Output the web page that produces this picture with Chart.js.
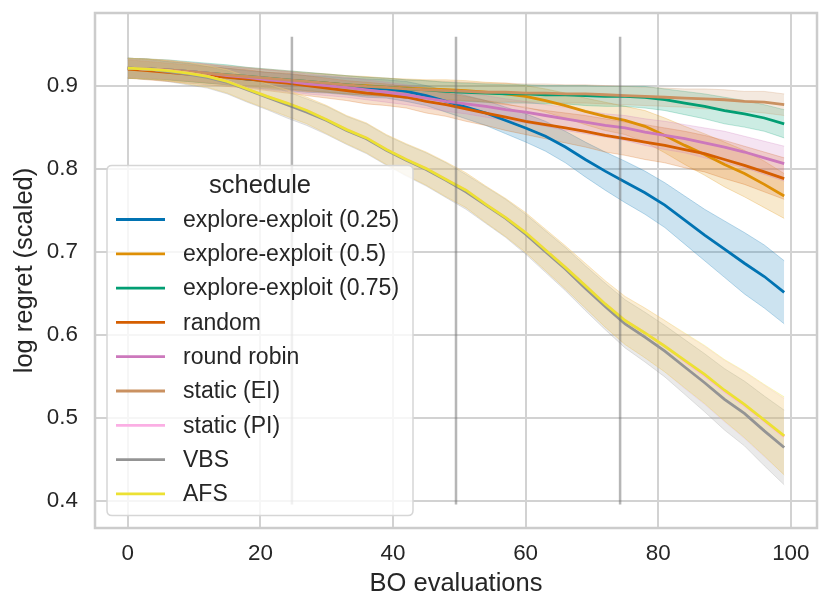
<!DOCTYPE html>
<html>
<head>
<meta charset="utf-8">
<script src="https://cdn.jsdelivr.net/npm/chart.js@4.4.1/dist/chart.umd.min.js"></script>
<style>
html,body{margin:0;padding:0;background:#ffffff;}
#wrap{width:830px;height:613px;position:relative;}
</style>
</head>
<body>
<div id="wrap"><canvas id="c" width="830" height="613"></canvas></div>
<script>
// ---------------- data ----------------
const evaluations = [0,3,6,9,12,15,18,21,24,27,30,33,36,39,42,45,48,51,54,57,60,63,66,69,72,75,78,81,84,87,90,93,96,99];

const scheduleNames = ['explore-exploit (0.25)','explore-exploit (0.5)','explore-exploit (0.75)','random','round robin','static (EI)','static (PI)','VBS','AFS'];

const explore025 = [0.921,0.920,0.918,0.916,0.913,0.911,0.908,0.906,0.904,0.902,0.901,0.899,0.897,0.896,0.893,0.888,0.881,0.874,0.867,0.858,0.849,0.839,0.826,0.811,0.797,0.784,0.771,0.756,0.738,0.720,0.703,0.686,0.670,0.651];
const explore05  = [0.921,0.920,0.918,0.916,0.914,0.912,0.910,0.908,0.906,0.904,0.903,0.901,0.900,0.898,0.897,0.896,0.895,0.894,0.892,0.890,0.887,0.882,0.876,0.869,0.863,0.858,0.851,0.840,0.828,0.817,0.805,0.794,0.781,0.767];
const explore075 = [0.921,0.920,0.919,0.917,0.915,0.913,0.911,0.909,0.907,0.905,0.903,0.901,0.899,0.898,0.896,0.895,0.893,0.892,0.891,0.890,0.890,0.889,0.889,0.888,0.887,0.887,0.886,0.883,0.879,0.875,0.870,0.866,0.861,0.854];
const randomSched = [0.920,0.918,0.916,0.914,0.912,0.910,0.908,0.905,0.903,0.900,0.897,0.894,0.891,0.889,0.886,0.881,0.877,0.872,0.867,0.862,0.857,0.853,0.849,0.845,0.840,0.836,0.832,0.828,0.823,0.818,0.811,0.804,0.796,0.788];
const roundRobin = [0.921,0.920,0.919,0.917,0.915,0.912,0.910,0.907,0.905,0.902,0.900,0.898,0.895,0.892,0.889,0.885,0.881,0.878,0.875,0.871,0.868,0.864,0.860,0.856,0.852,0.849,0.844,0.840,0.836,0.831,0.826,0.820,0.813,0.806];
const staticEI   = [0.921,0.920,0.919,0.917,0.915,0.913,0.911,0.909,0.907,0.905,0.903,0.901,0.899,0.898,0.896,0.895,0.894,0.893,0.892,0.892,0.891,0.891,0.890,0.890,0.889,0.888,0.887,0.886,0.885,0.884,0.883,0.881,0.880,0.877];
const staticPI   = [0.921,0.920,0.918,0.915,0.911,0.905,0.896,0.887,0.879,0.870,0.859,0.847,0.837,0.823,0.811,0.800,0.787,0.774,0.757,0.741,0.723,0.702,0.681,0.659,0.637,0.617,0.602,0.586,0.568,0.551,0.532,0.515,0.496,0.477];
const vbs        = [0.921,0.920,0.917,0.914,0.910,0.904,0.895,0.886,0.877,0.868,0.858,0.846,0.836,0.822,0.810,0.799,0.786,0.772,0.756,0.740,0.721,0.700,0.679,0.656,0.634,0.613,0.597,0.580,0.561,0.542,0.522,0.505,0.484,0.464];
const afs        = [0.921,0.920,0.918,0.915,0.911,0.905,0.896,0.887,0.879,0.870,0.859,0.847,0.837,0.823,0.811,0.800,0.787,0.774,0.757,0.741,0.723,0.702,0.681,0.659,0.637,0.617,0.602,0.586,0.569,0.552,0.533,0.516,0.497,0.478];

// 95% confidence half-widths
const explore025Ci = [0.012,0.012,0.011,0.011,0.010,0.010,0.010,0.010,0.010,0.010,0.010,0.010,0.011,0.011,0.012,0.012,0.013,0.014,0.015,0.016,0.017,0.018,0.019,0.021,0.023,0.025,0.026,0.027,0.029,0.031,0.034,0.037,0.038,0.038];
const explore05Ci  = [0.012,0.012,0.012,0.011,0.011,0.011,0.011,0.011,0.011,0.011,0.011,0.011,0.011,0.011,0.011,0.011,0.012,0.012,0.012,0.013,0.013,0.014,0.015,0.016,0.017,0.017,0.019,0.021,0.023,0.025,0.027,0.028,0.028,0.027];
const explore075Ci = [0.012,0.012,0.012,0.012,0.012,0.012,0.011,0.011,0.011,0.011,0.011,0.011,0.011,0.011,0.011,0.011,0.011,0.011,0.011,0.011,0.011,0.011,0.011,0.012,0.012,0.012,0.013,0.013,0.014,0.015,0.016,0.016,0.016,0.017];
const randomCi     = [0.011,0.011,0.011,0.011,0.011,0.011,0.011,0.011,0.012,0.012,0.012,0.012,0.013,0.013,0.013,0.014,0.014,0.015,0.015,0.016,0.016,0.017,0.018,0.019,0.020,0.020,0.021,0.021,0.022,0.022,0.023,0.023,0.024,0.025];
const roundRobinCi = [0.011,0.011,0.011,0.011,0.011,0.011,0.011,0.012,0.012,0.012,0.012,0.012,0.012,0.012,0.012,0.012,0.012,0.012,0.013,0.013,0.013,0.013,0.014,0.014,0.014,0.015,0.016,0.017,0.017,0.018,0.019,0.019,0.020,0.021];
const staticEICi   = [0.012,0.012,0.012,0.011,0.011,0.011,0.011,0.011,0.011,0.011,0.011,0.011,0.011,0.011,0.011,0.011,0.011,0.011,0.011,0.011,0.011,0.011,0.011,0.011,0.011,0.011,0.011,0.011,0.011,0.012,0.012,0.012,0.013,0.013];
const staticPICi   = [0.012,0.012,0.012,0.013,0.013,0.014,0.015,0.015,0.016,0.016,0.017,0.017,0.018,0.018,0.019,0.020,0.021,0.021,0.022,0.023,0.024,0.025,0.026,0.027,0.028,0.029,0.030,0.031,0.033,0.035,0.037,0.040,0.043,0.046];
const vbsCi        = [0.012,0.012,0.012,0.013,0.013,0.014,0.015,0.015,0.016,0.016,0.017,0.017,0.018,0.018,0.019,0.020,0.021,0.021,0.022,0.023,0.024,0.025,0.026,0.027,0.028,0.029,0.030,0.031,0.033,0.035,0.037,0.039,0.042,0.045];
const afsCi        = [0.012,0.012,0.012,0.013,0.013,0.014,0.015,0.015,0.016,0.016,0.017,0.017,0.018,0.018,0.019,0.020,0.021,0.021,0.022,0.023,0.024,0.025,0.026,0.027,0.028,0.029,0.030,0.031,0.033,0.035,0.037,0.040,0.043,0.047];

const xTicks = [0,20,40,60,80,100];
const yTicks = [0.4,0.5,0.6,0.7,0.8,0.9];
const switchPoints = [24.75, 49.5, 74.25];
const switchRange = [0.3952, 0.9588];

const seriesColors = ['#0173b2','#de8f05','#029e73','#d55e00','#cc78bc','#ca9161','#fbafe4','#949494','#ece133'];

// ---------------- build ----------------
const means = [explore025, explore05, explore075, randomSched, roundRobin, staticEI, staticPI, vbs, afs];
const cis = [explore025Ci, explore05Ci, explore075Ci, randomCi, roundRobinCi, staticEICi, staticPICi, vbsCi, afsCi];

function rgba(hex, a) {
  const n = parseInt(hex.slice(1), 16);
  return 'rgba(' + ((n >> 16) & 255) + ',' + ((n >> 8) & 255) + ',' + (n & 255) + ',' + a + ')';
}

const FONT = "'Liberation Sans', Arial, Helvetica, sans-serif";
const TEXT = '#262626';

const datasets = [];
means.forEach((m, i) => {
  const ci = cis[i];
  datasets.push({
    label: scheduleNames[i] + ' upper',
    data: evaluations.map((x, j) => ({x: x, y: m[j] + ci[j]})),
    borderColor: rgba(seriesColors[i], 0.25), borderWidth: 1,
    pointRadius: 0, fill: false, order: 100 - i, isBand: true
  });
  datasets.push({
    label: scheduleNames[i] + ' lower',
    data: evaluations.map((x, j) => ({x: x, y: m[j] - ci[j]})),
    borderColor: rgba(seriesColors[i], 0.25), borderWidth: 1,
    backgroundColor: rgba(seriesColors[i], 0.2),
    pointRadius: 0, fill: '-1', order: 100 - i, isBand: true
  });
});
means.forEach((m, i) => {
  datasets.push({
    label: scheduleNames[i],
    data: evaluations.map((x, j) => ({x: x, y: m[j]})),
    borderColor: seriesColors[i], borderWidth: 2.8,
    pointRadius: 0, fill: false, order: 50 - i, isSeries: true, seriesIndex: i
  });
});
switchPoints.forEach((sx) => {
  datasets.push({
    label: 'switch',
    data: [{x: sx, y: switchRange[0]}, {x: sx, y: switchRange[1]}],
    borderColor: 'rgba(110,110,110,0.5)', borderWidth: 2.5,
    pointRadius: 0, fill: false, order: 0
  });
});

const framePlugin = {
  id: 'frame',
  afterDatasetsDraw(chart) {
    const a = chart.chartArea, ctx = chart.ctx;
    ctx.save();
    ctx.strokeStyle = '#cccccc';
    ctx.lineWidth = 2.5;
    ctx.strokeRect(a.left, a.top, a.right - a.left, a.bottom - a.top);
    ctx.restore();
  }
};

const legendPlugin = {
  id: 'boxLegend',
  afterDraw(chart) {
    const ctx = chart.ctx;
    const bx = 107, by = 165.5, bw = 306, bh = 350, r = 5;
    ctx.save();
    ctx.beginPath();
    ctx.moveTo(bx + r, by);
    ctx.lineTo(bx + bw - r, by); ctx.quadraticCurveTo(bx + bw, by, bx + bw, by + r);
    ctx.lineTo(bx + bw, by + bh - r); ctx.quadraticCurveTo(bx + bw, by + bh, bx + bw - r, by + bh);
    ctx.lineTo(bx + r, by + bh); ctx.quadraticCurveTo(bx, by + bh, bx, by + bh - r);
    ctx.lineTo(bx, by + r); ctx.quadraticCurveTo(bx, by, bx + r, by);
    ctx.closePath();
    ctx.fillStyle = 'rgba(255,255,255,0.8)';
    ctx.fill();
    ctx.strokeStyle = '#d6d6d6';
    ctx.lineWidth = 1.5;
    ctx.stroke();

    ctx.fillStyle = TEXT;
    ctx.textAlign = 'center';
    ctx.textBaseline = 'middle';
    ctx.font = "25.5px " + FONT;
    ctx.fillText('schedule', bx + bw / 2, 186);

    ctx.textAlign = 'left';
    ctx.font = "23px " + FONT;
    chart.data.datasets.filter(d => d.isSeries).forEach((d, k) => {
      const y = 219.5 + k * 34.3;
      ctx.strokeStyle = d.borderColor;
      ctx.lineWidth = 2.8;
      ctx.beginPath();
      ctx.moveTo(116, y); ctx.lineTo(165, y);
      ctx.stroke();
      ctx.fillStyle = TEXT;
      ctx.fillText(d.label, 183, y + 1);
    });
    ctx.restore();
  }
};

new Chart(document.getElementById('c'), {
  type: 'line',
  data: {datasets: datasets},
  options: {
    responsive: false,
    animation: false,
    devicePixelRatio: 1,
    layout: {padding: {top: 13, right: 13, bottom: 0, left: 0}},
    plugins: {legend: {display: false}, tooltip: {enabled: false}},
    elements: {line: {tension: 0}},
    scales: {
      x: {
        type: 'linear', min: -4.95, max: 103.95,
        afterBuildTicks: (s) => { s.ticks = xTicks.map(v => ({value: v})); },
        afterFit: (s) => { s.height = 85; s.paddingLeft = 0; s.paddingRight = 0; },
        grid: {color: '#d2d2d2', lineWidth: 2, drawTicks: false},
        border: {display: false},
        ticks: {color: TEXT, font: {family: FONT, size: 22.4}, padding: 12, maxRotation: 0,
                callback: (v) => String(v)},
        title: {display: true, text: 'BO evaluations', color: TEXT,
                font: {family: FONT, size: 25.5}, padding: {top: 0, bottom: 14}}
      },
      y: {
        type: 'linear', min: 0.367, max: 0.9875,
        afterBuildTicks: (s) => { s.ticks = yTicks.map(v => ({value: v})); },
        afterFit: (s) => { s.width = 95; s.paddingTop = 0; s.paddingBottom = 0; },
        grid: {color: '#d2d2d2', lineWidth: 2, drawTicks: false},
        border: {display: false},
        ticks: {color: TEXT, font: {family: FONT, size: 22.4}, padding: 17,
                callback: (v) => Number(v).toFixed(1)},
        title: {display: true, text: 'log regret (scaled)', color: TEXT,
                font: {family: FONT, size: 25.5}, padding: {top: 10, bottom: 0}}
      }
    }
  },
  plugins: [framePlugin, legendPlugin]
});
</script>
</body>
</html>
